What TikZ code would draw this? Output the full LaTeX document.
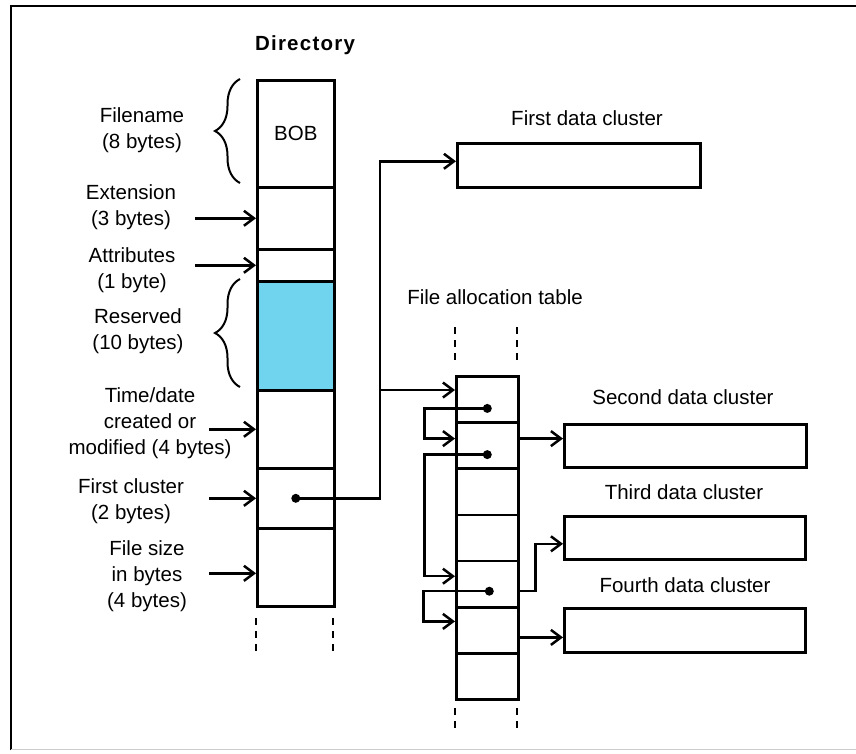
\documentclass[tikz,border=0pt]{standalone}
\usepackage{fontspec}
\setmainfont{Liberation Sans}
\usetikzlibrary{arrows.meta,positioning,calc,decorations.pathreplacing}
\definecolor{resvcyan}{RGB}{112,212,238}

\begin{document}
\begin{tikzpicture}[x=1pt,y=-1pt,
  font=\fontsize{20.5}{26}\selectfont,
  cell/.style={draw, line width=2.6pt, inner sep=0pt, anchor=north west},
  lbl/.style={align=center, inner sep=0pt},
  arr/.style={-{Straight Barb[length=10pt,width=15pt]}, line width=2.5pt},
  brc/.style={decorate, decoration={brace, amplitude=25pt}, line width=2pt},
  dot/.style={circle, fill, inner sep=0pt, minimum size=9pt},
  gap/.style={dashed, dash pattern=on 7pt off 6pt, line width=1.3pt}]
\useasboundingbox (0,0) rectangle (856,753);
% frame
\draw[line width=2pt] (11,750) -- (11,6) -- (856,6);
\draw[gray!40, line width=1pt] (11,749) -- (856,749);

% directory entry
\node[font=\fontsize{20.5}{24}\selectfont\bfseries\addfontfeature{LetterSpace=6}] (dirtitle) at (305,45) {Directory};
\foreach \n/\t/\h/\c in {fname/79/107/white, ext/186/62/white, attr/248/32/white,
  resv/280/109/resvcyan, time/389/78/white, first/467/60/white, size/527/78/white}{
  \node[cell, fill=\c, minimum width=77, minimum height=\h] (\n) at (256,\t) {};
}
\node (bob) at (fname.center) {BOB};
\draw[gap] (256,618) -- (256,657);
\draw[gap] (333,618) -- (333,657);

% field labels
\node[lbl] (lfname) at (142,130) {Filename\\(8 bytes)};
\node[lbl] (lext) at (131,207) {Extension\\(3 bytes)};
\node[lbl] (lattr) at (132,270) {Attributes\\(1 byte)};
\node[lbl] (lresv) at (138,331) {Reserved\\(10 bytes)};
\node[lbl] (ltime) at (150,423) {Time/date\\created or\\modified (4 bytes)};
\node[lbl] (lfirst) at (131,501) {First cluster\\(2 bytes)};
\node[lbl] (lsize) at (147,576) {File size\\in bytes\\(4 bytes)};
\draw[brc] (240,183) -- (240,79);
\draw[brc] (240,387) -- (240,279);
\draw[arr] ([xshift=-61pt]ext.west) -- (ext.west);
\draw[arr] ([xshift=-61pt]attr.west) -- (attr.west);
\draw[arr] ([xshift=-47pt]time.west) -- (time.west);
\draw[arr] ([xshift=-47pt]first.west) -- (first.west);
\draw[arr] ([xshift=-47pt,yshift=-6pt]size.west) -- ([yshift=-6pt]size.west);

% data clusters
\node[cell, minimum width=243, minimum height=44] (d1) at (456,142) {};
\node[cell, minimum width=242, minimum height=43] (d2) at (563,423) {};
\node[cell, minimum width=241, minimum height=43] (d3) at (563,515) {};
\node[cell, minimum width=241, minimum height=44] (d4) at (563,607) {};
\node (ld1) at (587,118) {First data cluster};
\node (ld2) at (683,397) {Second data cluster};
\node (ld3) at (684,492) {Third data cluster};
\node (ld4) at (685,585) {Fourth data cluster};

% file allocation table
\node (fattitle) at (495,297) {File allocation table};
\foreach \i in {1,...,7}{
  \node[cell, minimum width=62, minimum height=46.2] (fat\i) at (455,{375+46.2*(\i-1)}) {};
}
\draw[gap] (455,327) -- (455,364);
\draw[gap] (517,327) -- (517,364);
\draw[gap] (455,708) -- (455,733);
\draw[gap] (517,708) -- (517,733);

% first cluster pointer
\node[dot] (ptr0) at (first.center) {};
\draw[arr] (ptr0.center) -| ($(d1.west)+(-76,-4)$) -- ([yshift=4pt]d1.west);
\coordinate (split) at (380,390);
\draw[arr] (split) -- (split -| fat1.west);

% chain inside the table
\node[dot] (ptr1) at ([yshift=-9pt]fat1.center) {};
\node[dot] (ptr2) at ([yshift=-9pt]fat2.center) {};
\node[dot] (ptr5) at ([xshift=2pt,yshift=-7pt]fat5.center) {};
\draw[arr] (ptr1.center) -- ++(-63,0) |- ([yshift=7pt]fat2.west);
\draw[arr] (ptr2.center) -- ++(-63,0) |- ([yshift=8pt]fat5.west);
\draw[arr] (ptr5.center) -- ++(-66,0) |- ([yshift=9pt]fat6.west);

% table to clusters
\draw[arr] ([yshift=7pt]fat2.east) -- ([yshift=7pt]fat2.east -| d2.west);
\draw[arr] ([yshift=-7pt]fat5.east) -- ++(16,0) |- ([yshift=-6pt]d3.west);
\draw[arr] ([yshift=-7pt]fat6.east) -- ([yshift=-7pt]fat6.east -| d4.west);
\end{tikzpicture}
\end{document}
